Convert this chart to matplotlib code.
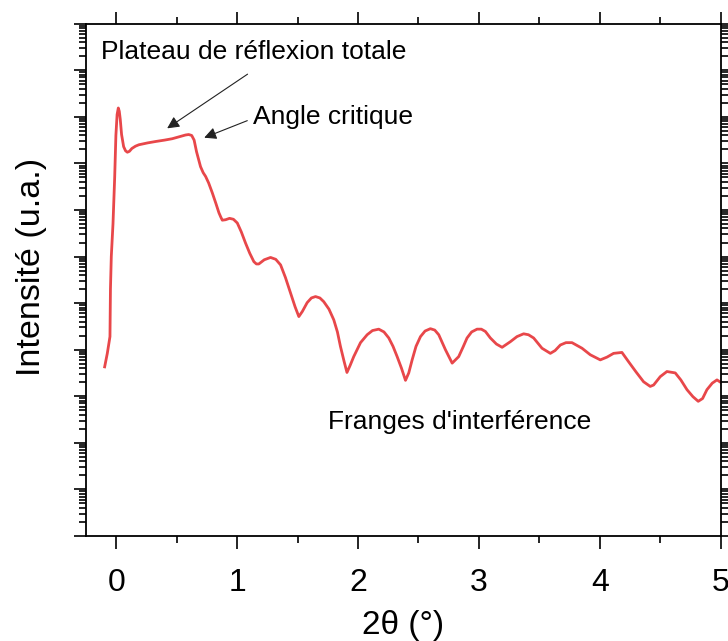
import numpy as np
import matplotlib.pyplot as plt
from matplotlib.ticker import LogLocator, MultipleLocator, NullFormatter

plt.rcParams['font.family'] = ['Liberation Sans', 'DejaVu Sans']

# reflectivity curve: 2theta (deg) and log10 of intensity (a.u.)
two_theta = [-0.095, -0.073, -0.051, -0.047, -0.040, -0.026, -0.012, -0.002, 0.008,
             0.018, 0.026, 0.034, 0.045, 0.062, 0.078, 0.093, 0.11, 0.13, 0.16,
             0.188, 0.26, 0.326, 0.40, 0.464, 0.52, 0.574, 0.60, 0.625, 0.645,
             0.665, 0.698, 0.720, 0.740, 0.765, 0.795, 0.825, 0.850, 0.865, 0.878,
             0.905, 0.938, 0.970, 1.002, 1.035, 1.070, 1.105, 1.139, 1.160, 1.180,
             1.225, 1.277, 1.320, 1.360, 1.400, 1.442, 1.480, 1.511, 1.540, 1.580,
             1.615, 1.649, 1.685, 1.717, 1.760, 1.800, 1.830, 1.855, 1.885, 1.909,
             1.935, 1.965, 2.021, 2.076, 2.120, 2.172, 2.215, 2.255, 2.290, 2.324,
             2.360, 2.393, 2.420, 2.448, 2.480, 2.517, 2.555, 2.599, 2.635, 2.668,
             2.723, 2.779, 2.833, 2.870, 2.902, 2.940, 2.985, 3.020, 3.054, 3.095,
             3.145, 3.192, 3.260, 3.315, 3.370, 3.410, 3.453, 3.522, 3.591, 3.630,
             3.674, 3.720, 3.770, 3.853, 3.921, 4.004, 4.060, 4.114, 4.183, 4.238,
             4.300, 4.362, 4.417, 4.445, 4.500, 4.555, 4.624, 4.670, 4.721, 4.770,
             4.814, 4.850, 4.886, 4.930, 4.969, 5.01]
log_i = [3.63, 3.92, 4.28, 5.30, 6.00, 6.70, 7.70, 8.60, 9.05,
         9.19, 9.12, 8.95, 8.62, 8.36, 8.27, 8.24, 8.26, 8.32, 8.37,
         8.40, 8.44, 8.47, 8.50, 8.53, 8.57, 8.61, 8.62, 8.60, 8.50,
         8.25, 7.93, 7.80, 7.72, 7.58, 7.37, 7.14, 6.94, 6.85, 6.78,
         6.79, 6.82, 6.80, 6.72, 6.53, 6.29, 6.07, 5.89, 5.84, 5.84,
         5.93, 5.98, 5.94, 5.82, 5.55, 5.22, 4.92, 4.71, 4.82, 5.01,
         5.11, 5.14, 5.11, 5.03, 4.87, 4.64, 4.38, 4.07, 3.75, 3.51,
         3.66, 3.85, 4.15, 4.32, 4.41, 4.44, 4.38, 4.25, 4.07, 3.85,
         3.60, 3.34, 3.50, 3.78, 4.07, 4.28, 4.40, 4.45, 4.42, 4.32,
         4.00, 3.71, 3.85, 4.06, 4.25, 4.38, 4.44, 4.44, 4.39, 4.25,
         4.12, 4.05, 4.17, 4.28, 4.34, 4.32, 4.25, 4.03, 3.92, 3.98,
         4.10, 4.15, 4.15, 4.03, 3.89, 3.78, 3.84, 3.92, 3.94, 3.74,
         3.52, 3.31, 3.21, 3.24, 3.42, 3.53, 3.50, 3.35, 3.14, 2.99,
         2.89, 2.95, 3.14, 3.28, 3.35, 3.28]
intensity = 10 ** np.array(log_i)

fig = plt.figure(figsize=(7.28, 6.41), dpi=100)
ax = fig.add_axes([0.118, 0.164, 0.872, 0.799])

ax.plot(two_theta, intensity, color='#e8474a', lw=2.0, solid_joinstyle='round')

ax.set_yscale('log')
ax.set_xlim(-0.25, 5.0)
ax.set_ylim(1e0, 1e11)

ax.xaxis.set_major_locator(MultipleLocator(1))
ax.xaxis.set_minor_locator(MultipleLocator(0.5))
ax.yaxis.set_major_locator(LogLocator(base=10, numticks=20))
ax.yaxis.set_minor_locator(LogLocator(base=10, subs=np.arange(2, 10), numticks=20))
ax.yaxis.set_major_formatter(NullFormatter())
ax.yaxis.set_minor_formatter(NullFormatter())

ax.tick_params(which='both', direction='out', top=True, right=True, width=1.2)
ax.tick_params(which='major', length=9, labelsize=23)
ax.tick_params(which='minor', length=5)
ax.tick_params(axis='x', which='major', pad=14)
for s in ax.spines.values():
    s.set_linewidth(1.3)

ax.set_xlabel('2θ (°)', fontsize=24, labelpad=9)
ax.set_ylabel('Intensité (u.a.)', fontsize=24.5)
ax.yaxis.set_label_coords(-0.062, 0.525)

ax.text(-0.128, 10 ** 10.40, 'Plateau de réflexion totale', fontsize=19,
        va='center', ha='left')
ax.text(1.136, 10 ** 9.0, 'Angle critique', fontsize=19, va='center', ha='left')
ax.text(1.756, 10 ** 2.45, "Franges d'interférence", fontsize=19,
        va='center', ha='left')

arrow = dict(arrowstyle='-|>', color='#222222', lw=0.8, mutation_scale=18)
ax.annotate('', xy=(0.403, 10 ** 8.72), xytext=(1.106, 10 ** 9.95), arrowprops=arrow)
ax.annotate('', xy=(0.707, 10 ** 8.53), xytext=(1.106, 10 ** 8.94), arrowprops=arrow)

fig.savefig('out.png', dpi=100)
